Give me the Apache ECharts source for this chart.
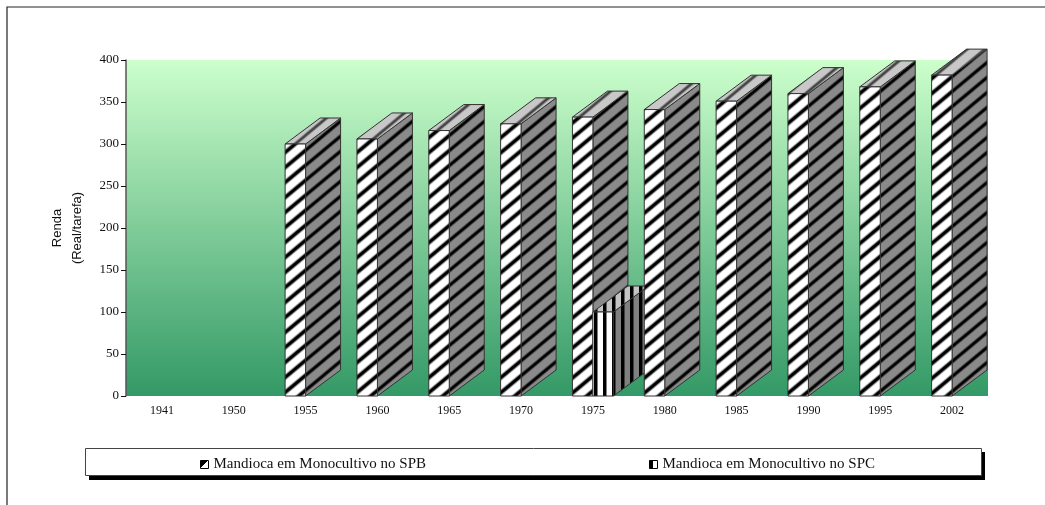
<!DOCTYPE html>
<html><head><meta charset="utf-8">
<style>html,body{margin:0;padding:0;background:#fff}#c{width:1045px;height:505px}</style>
<script src="https://cdn.jsdelivr.net/npm/echarts@6/dist/echarts.min.js"></script>
</head><body><div id="c"></div>
<script>
const categories = ['1941','1950','1955','1960','1965','1970','1975','1980','1985','1990','1995','2002'];
const spbValues = [null,null,300,306,316,324,332,341,351,360,368,382];
const spcValues = [null,null,null,null,null,null,100,null,null,null,null,null];
const yTicks = {min:0,max:400,interval:50};
const seriesNames = ['Mandioca em Monocultivo no SPB','Mandioca em Monocultivo no SPC'];

function tile(w,h,bg,fg,draw){
  const c=document.createElement('canvas');c.width=w;c.height=h;
  const g=c.getContext('2d');g.fillStyle=bg;g.fillRect(0,0,w,h);
  g.strokeStyle=fg;draw(g,w,h);return {image:c,repeat:'repeat'};
}
function diag(lw,soft){return (g,w,h)=>{g.lineCap='butt';
  const pass=(width,alpha)=>{g.lineWidth=width;g.globalAlpha=alpha;
    for(const k of [-1,0,1]){g.beginPath();g.moveTo((k-1)*w,2*h);g.lineTo((k+2)*w,-h);g.stroke();}};
  if(soft){pass(lw+2.4,.3);pass(lw+1.2,.4);}
  pass(lw,1);g.globalAlpha=1;};}
function vert(lw){return (g,w,h)=>{g.fillStyle=g.strokeStyle;g.fillRect(0,0,lw,h);};}
const P={
 spb:{front:tile(18,15,'#fff','#000',diag(2.8,true)),side:tile(18,15,'#8a8a8a','#000',diag(2.2,true)),top:tile(18,15,'#c8c8c8','#444',diag(1.8,true))},
 spc:{front:tile(9,9,'#fff','#000',vert(3.5)),side:tile(9,9,'#808080','#000',vert(3.5)),top:tile(9,9,'#c4c4c4','#000',vert(3.5))}
};
function box(pat,off,order){
 return function(params,api){
  const v=api.value(1); if(v==null||isNaN(v))return null;
  const w=api.size([1,0])[0];
  const bw=w*0.285, dx=35, dy=-26;
  const b=api.coord([api.value(0),0]), t=api.coord([api.value(0),v]);
  const x0=b[0]+off*bw, x1=x0+bw, yb=b[1], yt=t[1];
  const st=f=>({fill:f,stroke:'#333',lineWidth:1});
  const poly=(pts,f)=>({type:'polygon',z2:order*10+params.dataIndex*100,shape:{points:pts},style:st(f)});
  return {type:'group',children:[
    poly([[x1,yb],[x1+dx,yb+dy],[x1+dx,yt+dy],[x1,yt]],pat.side),
    poly([[x0,yt],[x0+dx,yt+dy],[x1+dx,yt+dy],[x1,yt]],pat.top),
    poly([[x0,yb],[x1,yb],[x1,yt],[x0,yt]],pat.front)
  ]};
 };
}
const chart=echarts.init(document.getElementById('c'),null,{renderer:'canvas'});
const serif='"Liberation Serif","Times New Roman",serif';
const toData=a=>a.map((v,i)=>[i,v]);
function grad(x2,y2,a,b){return {type:'linear',x:0,y:0,x2,y2,colorStops:[{offset:0,color:a},{offset:.5,color:a},{offset:.5,color:b},{offset:1,color:b}]};}
chart.setOption({
 animation:false,
 backgroundColor:'#fff',
 graphic:[
  {type:'polyline',silent:true,z:0,shape:{points:[[7,505],[7,7],[1045,7]]},style:{stroke:'#222',lineWidth:1.2,fill:null}},
  {type:'rect',silent:true,z:0,shape:{x:89,y:452,width:896,height:28},style:{fill:'#000'}},
  {type:'rect',silent:true,z:1,shape:{x:85.5,y:448.5,width:896,height:27},style:{fill:'#fff',stroke:'#444',lineWidth:1}}
 ],
 grid:{left:126,top:60,width:862,height:336,show:true,borderWidth:0,
  backgroundColor:{type:'linear',x:0,y:0,x2:0,y2:1,colorStops:[{offset:0,color:'#ccffcc'},{offset:1,color:'#339966'}]}},
 xAxis:{type:'category',data:categories,axisTick:{show:false},axisLine:{show:false},splitLine:{show:false},
  axisLabel:{fontFamily:serif,fontSize:12,color:'#111',margin:9}},
 yAxis:{type:'value',min:yTicks.min,max:yTicks.max,interval:yTicks.interval,splitLine:{show:false},
  name:'Renda\n(Real/tarefa)',nameLocation:'middle',nameRotate:90,nameGap:39,
  nameTextStyle:{fontFamily:'"Liberation Sans",Arial,sans-serif',fontSize:13,color:'#111',lineHeight:20},
  axisLine:{show:true,lineStyle:{color:'#555',width:1.5}},
  axisTick:{show:true,length:5,lineStyle:{color:'#111',width:1}},
  axisLabel:{fontFamily:serif,fontSize:13,color:'#111',margin:7}},
 legend:{left:195,top:452,itemWidth:8,itemHeight:8,itemGap:223,z:5,
  textStyle:{fontFamily:serif,fontSize:15,color:'#111'},
  data:[
   {name:seriesNames[0],icon:'rect',itemStyle:{color:grad(1,1,'#000','#fff'),borderColor:'#000',borderWidth:1}},
   {name:seriesNames[1],icon:'rect',itemStyle:{color:grad(1,0,'#000','#fff'),borderColor:'#000',borderWidth:1}}]},
 series:[
  {type:'custom',name:seriesNames[0],coordinateSystem:'cartesian2d',clip:false,z:3,data:toData(spbValues),encode:{x:0,y:1},renderItem:box(P.spb,-1,0)},
  {type:'custom',name:seriesNames[1],coordinateSystem:'cartesian2d',clip:false,z:3,data:toData(spcValues),encode:{x:0,y:1},renderItem:box(P.spc,0,1)}
 ]
});
</script></body></html>
